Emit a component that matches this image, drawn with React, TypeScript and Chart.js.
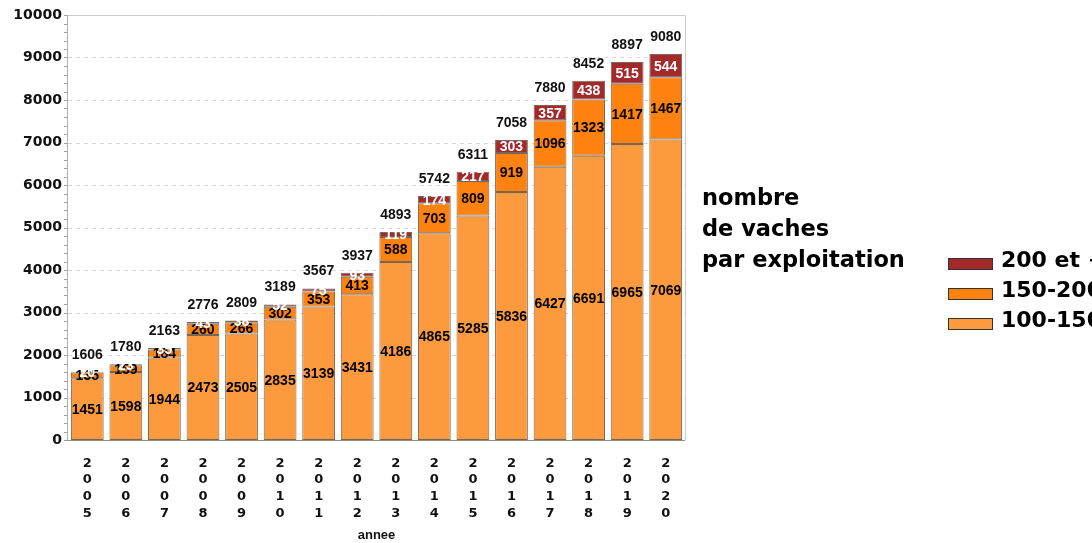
import React, { useEffect, useRef } from 'react';
import { Chart, registerables } from 'chart.js';

Chart.register(...registerables);

const years = ['2005', '2006', '2007', '2008', '2009', '2010', '2011', '2012', '2013', '2014', '2015', '2016', '2017', '2018', '2019', '2020'];
const v100to150 = [1451, 1598, 1944, 2473, 2505, 2835, 3139, 3431, 4186, 4865, 5285, 5836, 6427, 6691, 6965, 7069];
const v150to200 = [135, 159, 184, 260, 266, 302, 353, 413, 588, 703, 809, 919, 1096, 1323, 1417, 1467];
const v200plus = [20, 23, 35, 43, 38, 52, 75, 93, 119, 174, 217, 303, 357, 438, 515, 544];
const totals = [1606, 1780, 2163, 2776, 2809, 3189, 3567, 3937, 4893, 5742, 6311, 7058, 7880, 8452, 8897, 9080];
const seriesNames = ['100-150', '150-200', '200 et +'];
const seriesColors = ['#FD9A3E', '#FE8210', '#A3292B'];
const legendTitle = ['nombre', 'de vaches', 'par exploitation'];
const axisTitle = 'annee';
const yMax = 10000;
const yStep = 1000;
const yMinorStep = 200;

const SANS = '"Liberation Sans", Arial, sans-serif';
const DEJAVU = '"DejaVu Sans", sans-serif';

export default function App() {
  const ref = useRef<HTMLCanvasElement | null>(null);

  useEffect(() => {
    const canvas = ref.current;
    if (!canvas) return;
    const seriesValues = [v100to150, v150to200, v200plus];

    const decor = {
      id: 'decor',
      beforeDatasetsDraw(chart: any) {
        const { ctx, chartArea } = chart;
        const y = chart.scales.y;
        ctx.save();
        ctx.strokeStyle = '#d8d8d8';
        ctx.lineWidth = 1;
        ctx.setLineDash([4, 4]);
        for (let v = yStep; v < yMax; v += yStep) {
          const py = Math.round(y.getPixelForValue(v)) + 0.5;
          ctx.beginPath();
          ctx.moveTo(chartArea.left, py);
          ctx.lineTo(chartArea.right, py);
          ctx.stroke();
        }
        ctx.setLineDash([]);
        ctx.strokeStyle = '#cccccc';
        ctx.beginPath();
        ctx.moveTo(chartArea.left, Math.round(chartArea.top) + 0.5);
        ctx.lineTo(Math.round(chartArea.right) + 0.5, Math.round(chartArea.top) + 0.5);
        ctx.lineTo(Math.round(chartArea.right) + 0.5, chartArea.bottom);
        ctx.stroke();
        ctx.strokeStyle = '#b0b0b0';
        ctx.beginPath();
        ctx.moveTo(Math.round(chartArea.left) - 0.5, chartArea.top);
        ctx.lineTo(Math.round(chartArea.left) - 0.5, chartArea.bottom);
        ctx.stroke();
        ctx.strokeStyle = '#a0a0a0';
        for (let v = 0; v <= yMax; v += yMinorStep) {
          const py = Math.round(y.getPixelForValue(v)) + 0.5;
          ctx.beginPath();
          ctx.moveTo(chartArea.left - 4, py);
          ctx.lineTo(chartArea.left - 1, py);
          ctx.stroke();
        }
        ctx.restore();
      },
      afterDatasetsDraw(chart: any) {
        const { ctx, chartArea } = chart;
        ctx.save();
        ctx.strokeStyle = '#9a8a7a';
        ctx.beginPath();
        ctx.moveTo(chartArea.left - 1, Math.round(chartArea.bottom) + 0.5);
        ctx.lineTo(chartArea.right, Math.round(chartArea.bottom) + 0.5);
        ctx.stroke();

        ctx.textAlign = 'center';
        ctx.textBaseline = 'middle';
        ctx.font = `bold 14px ${SANS}`;
        for (let d = 0; d < seriesValues.length; d++) {
          const meta = chart.getDatasetMeta(d);
          ctx.fillStyle = d === 2 ? '#ffffff' : '#000000';
          meta.data.forEach((bar: any, i: number) => {
            const p = bar.getProps(['x', 'y', 'base'], true);
            ctx.fillText(String(seriesValues[d][i]), p.x, (p.y + p.base) / 2 + 1);
          });
        }
        const top = chart.getDatasetMeta(2);
        ctx.fillStyle = '#111111';
        ctx.font = `bold 14px ${SANS}`;
        top.data.forEach((bar: any, i: number) => {
          const p = bar.getProps(['x', 'y'], true);
          ctx.fillText(String(totals[i]), p.x, p.y - 17);
        });
        ctx.restore();
      },
      afterDraw(chart: any) {
        const { ctx } = chart;
        ctx.save();
        ctx.fillStyle = '#000000';
        ctx.textAlign = 'left';
        ctx.textBaseline = 'middle';
        ctx.font = `bold 22.5px ${DEJAVU}`;
        legendTitle.forEach((t, i) => ctx.fillText(t, 702, 199 + i * 31));
        const order = [2, 1, 0];
        order.forEach((s, i) => {
          const cy = 264 + i * 30;
          ctx.fillStyle = seriesColors[s];
          ctx.fillRect(948, cy - 6, 45, 12);
          ctx.strokeStyle = '#333333';
          ctx.lineWidth = 1;
          ctx.strokeRect(948.5, cy - 5.5, 44, 11);
          ctx.fillStyle = '#000000';
          ctx.font = `bold 22px ${DEJAVU}`;
          ctx.fillText(seriesNames[s], 1001, cy - 3);
        });
        ctx.restore();
      },
    };

    const chart = new Chart(canvas, {
      type: 'bar',
      data: {
        labels: years.map((y) => y.split('')),
        datasets: seriesValues.map((vals, i) => ({
          label: seriesNames[i],
          data: vals,
          backgroundColor: seriesColors[i],
          borderColor: '#7a6658',
          borderWidth: 1,
          borderSkipped: false,
          barPercentage: 0.85,
          categoryPercentage: 1,
        })),
      },
      options: {
        responsive: false,
        animation: false,
        devicePixelRatio: 1,
        layout: { padding: { top: 15, right: 407, left: 0, bottom: 0 } },
        plugins: {
          legend: { display: false },
          tooltip: { enabled: false },
        },
        scales: {
          x: {
            stacked: true,
            grid: { display: false, drawTicks: false },
            border: { display: false },
            ticks: {
              autoSkip: false,
              maxRotation: 0,
              minRotation: 0,
              padding: 15,
              color: '#111111',
              font: { family: DEJAVU, size: 13, weight: 'bold', lineHeight: 1.28 },
            },
            title: {
              display: true,
              text: axisTitle,
              color: '#111111',
              padding: { top: 0, bottom: 0 },
              font: { family: SANS, size: 13, weight: 'bold' },
            },
            afterFit: (scale: any) => {
              scale.height = 103;
            },
          },
          y: {
            stacked: true,
            min: 0,
            max: yMax,
            grid: { display: false, drawTicks: false },
            border: { display: false },
            ticks: {
              stepSize: yStep,
              padding: 6,
              color: '#111111',
              font: { family: DEJAVU, size: 14, weight: 'bold' },
              callback: (v: any) => String(v),
            },
            afterFit: (scale: any) => {
              scale.width = 68;
            },
          },
        },
      },
      plugins: [decor],
    } as any);

    return () => chart.destroy();
  }, []);

  return (
    <div style={{ position: 'absolute', left: 0, top: 0, width: 1092, height: 543, background: '#ffffff' }}>
      <canvas ref={ref} width={1092} height={543} style={{ display: 'block' }} />
    </div>
  );
}
